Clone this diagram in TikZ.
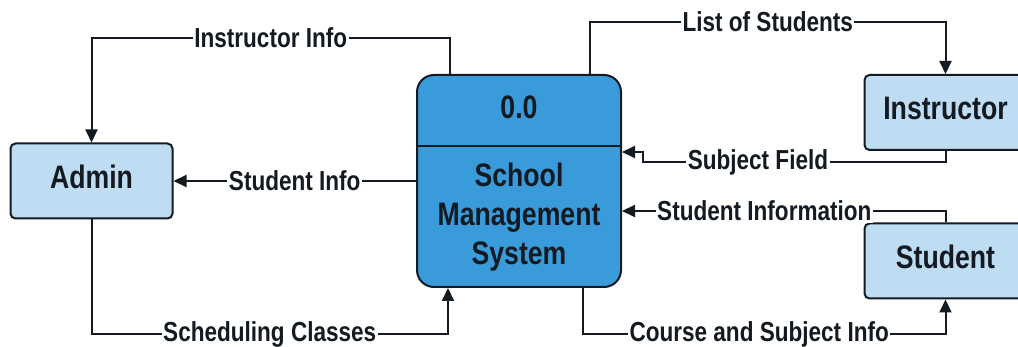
\documentclass[tikz,border=0pt]{standalone}
\usepackage{fontspec}
\setmainfont{Liberation Sans}[FakeStretch=0.82]
\usepackage{tikz}
\usetikzlibrary{arrows.meta}
\definecolor{procblue}{HTML}{3A9BDA}
\definecolor{entblue}{HTML}{BEDCF2}
\definecolor{inkdark}{HTML}{141A22}

\begin{document}
\begin{tikzpicture}[x=1pt,y=-1pt,line width=2pt,draw=inkdark,
		entity/.style={draw=inkdark,fill=entblue,rounded corners=5pt,minimum width=162pt,minimum height=75pt,text depth=8pt,font=\fontsize{32.5}{38}\selectfont\bfseries,text=inkdark},
		flow/.style={draw=inkdark,-{Triangle[length=13pt,width=12pt]}},
		lbl/.style={fill=white,inner sep=1.5pt,font=\fontsize{27.5}{32}\selectfont\bfseries,text=inkdark}]
				\useasboundingbox (0,0) rectangle (1018,347);
				\clip (0,0) rectangle (1018,347);
				\node[entity] (admin) at (91.5,181) {Admin};
				\node[entity] (instr) at (945.5,112.5) {Instructor};
				\node[entity] (student) at (945.5,261) {Student};
				\node[draw=inkdark,fill=procblue,rounded corners=17pt,minimum width=204pt,minimum height=212pt] (sms) at (519,181) {};
				\draw ([yshift=-72pt]sms.north west) -- ([yshift=-72pt]sms.north east);
				\node[font=\fontsize{32.5}{38}\selectfont\bfseries,text=inkdark] (num) at (519,107) {0.0};
				\node[font=\fontsize{32.5}{39}\selectfont\bfseries,text=inkdark,align=center] (name) at (519,217) {School\\Management\\System};
				\draw[flow] ([xshift=-69pt]sms.north) -- ++(0,-36) -| node[lbl,pos=0.25]{Instructor Info} (admin.north);
				\draw[flow] (sms.west) -- node[lbl]{Student Info} (admin.east);
				\draw[flow] (admin.south) -- ++(0,115) -| node[lbl,pos=0.25]{Scheduling Classes} ([xshift=-71pt]sms.south);
				\draw[flow] ([xshift=71pt]sms.north) -- ++(0,-52) -| node[lbl,pos=0.25]{List of Students} (instr.north);
				\draw[flow] (instr.south) |- node[lbl,pos=0.81]{Subject Field} (643,162) |- ([yshift=29pt]sms.east);
				\draw[flow] (student.north) |- node[lbl,pos=0.78]{Student Information} ([yshift=-30pt]sms.east);
				\draw[flow] ([xshift=64pt]sms.south) -- ++(0,46) -| node[lbl,pos=0.243]{Course and Subject Info} (student.south);
			\end{tikzpicture}
\end{document}
